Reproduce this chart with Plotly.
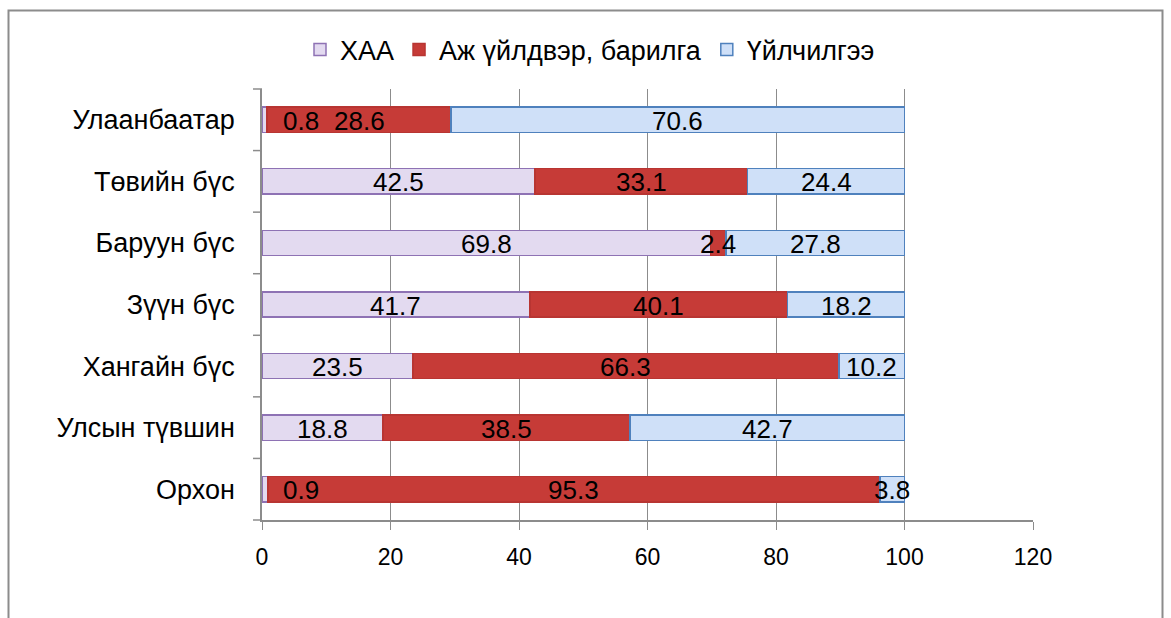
import plotly.graph_objects as go

# Sector structure by region, percent
regions = ["Улаанбаатар", "Төвийн бүс", "Баруун бүс", "Зүүн бүс",
           "Хангайн бүс", "Улсын түвшин", "Орхон"]
agri = [0.8, 42.5, 69.8, 41.7, 23.5, 18.8, 0.9]
industry = [28.6, 33.1, 2.4, 40.1, 66.3, 38.5, 95.3]
services = [70.6, 24.4, 27.8, 18.2, 10.2, 42.7, 3.8]

series = [
    ("ХАА", agri, "#e3daf0", "#8e72b4"),
    ("Аж үйлдвэр, барилга", industry, "#c63b37", "#b83532"),
    ("Үйлчилгээ", services, "#cfe0f8", "#4f81bd"),
]

FONT = "Liberation Sans, Arial, sans-serif"
W, H = 1171, 618
ML, MR, MT, MB = 262, 138, 89, 98
PW, PH = W - ML - MR, H - MT - MB

fig = go.Figure()
annotations = []
base = [0.0] * len(regions)
for name, vals, fill, line in series:
    fig.add_trace(go.Bar(
        y=regions, x=vals, name=name, orientation="h",
        marker=dict(color=fill, line=dict(color=line, width=1.5)),
        width=0.41,
    ))
    for i, (r, v) in enumerate(zip(regions, vals)):
        shift = 36 if (series[0][1] is vals and v < 1) else 0
        annotations.append(dict(
            x=base[i] + v / 2, y=r, xref="x", yref="y",
            text=f"{v:g}", showarrow=False, xshift=shift, yshift=-1,
            font=dict(family=FONT, size=26, color="#000000"),
        ))
        base[i] += v

# outer chart frame
def px_x(p):
    return (p - ML) / PW

def px_y(p):
    return 1 - (p - MT) / PH

fig.add_shape(type="rect", xref="paper", yref="paper",
              x0=px_x(8.5), x1=px_x(1162.5), y0=px_y(640), y1=px_y(10.5),
              line=dict(color="#8c8c8c", width=2), layer="below")

fig.update_layout(
    width=W, height=H,
    margin=dict(l=ML, r=MR, t=MT, b=MB),
    barmode="stack",
    plot_bgcolor="white", paper_bgcolor="white",
    font=dict(family=FONT, size=20, color="#000000"),
    annotations=annotations,
    showlegend=True,
    legend=dict(orientation="h", x=px_x(590), xanchor="center",
                y=px_y(50), yanchor="middle",
                font=dict(family=FONT, size=27), traceorder="normal",
                itemwidth=30, bgcolor="rgba(0,0,0,0)"),
    xaxis=dict(range=[0, 120], dtick=20, tick0=0,
               showgrid=True, gridcolor="#8c8c8c", gridwidth=1,
               showline=True, linecolor="#8c8c8c", linewidth=1.5,
               ticks="outside", ticklen=8, tickcolor="#8c8c8c",
               tickfont=dict(family=FONT, size=23), zeroline=False,
               ticklabelstandoff=8, fixedrange=True),
    yaxis=dict(autorange="reversed", showgrid=False,
               showline=True, linecolor="#8c8c8c", linewidth=1.5,
               ticks="", tickfont=dict(family=FONT, size=27),
               ticklabelstandoff=20, fixedrange=True),
)

# category separator tick marks on the value axis side
for k in range(len(regions) + 1):
    fig.add_shape(type="line", xref="paper", yref="paper",
                  x0=px_x(253), x1=0, y0=1 - k / len(regions), y1=1 - k / len(regions),
                  line=dict(color="#8c8c8c", width=1.5))

fig.write_html("out.html")
